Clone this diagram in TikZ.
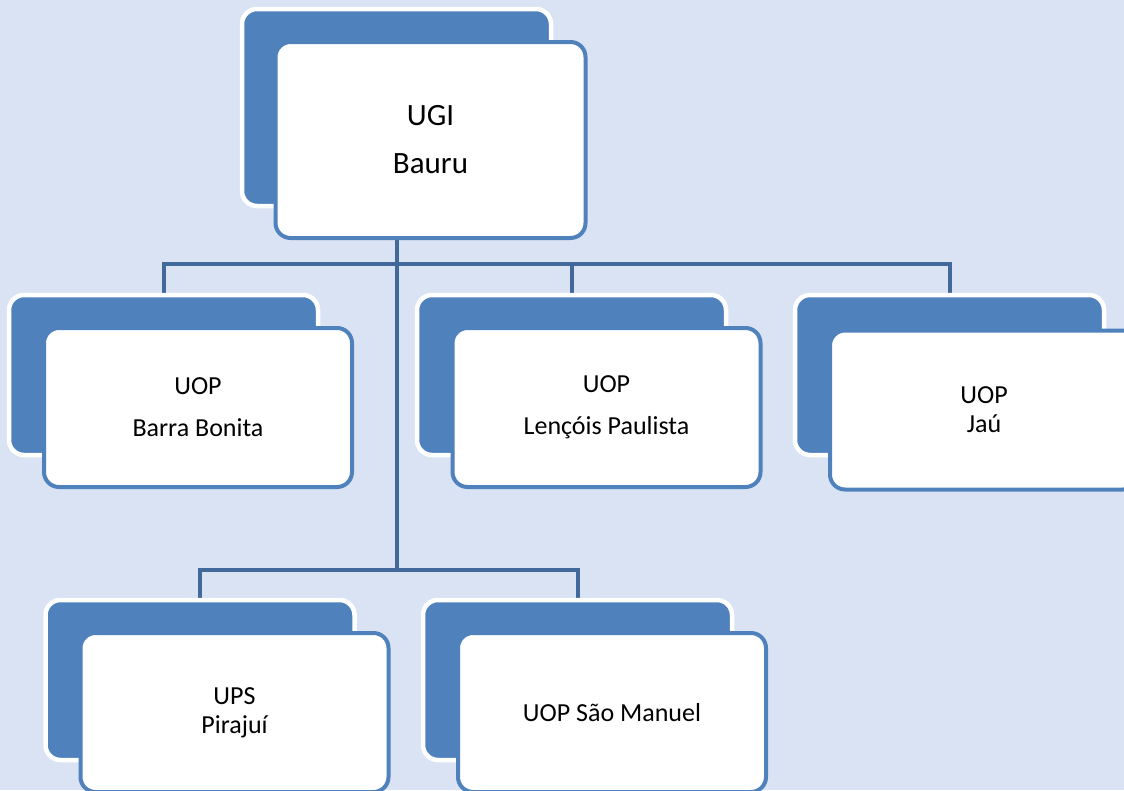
\documentclass[tikz,border=0pt]{standalone}
\usepackage{fontspec}
\setmainfont{Carlito}
\usetikzlibrary{positioning, calc, backgrounds}

\definecolor{cardblue}{HTML}{4F81BD}
\definecolor{linkblue}{HTML}{41699A}
\definecolor{pagebg}{HTML}{DAE3F3}

\begin{document}
\begin{tikzpicture}[
    x=1pt, y=1pt,
    backcard/.style={rectangle, rounded corners=15pt, draw=white, fill=cardblue, line width=4.5pt, minimum width=309pt, minimum height=160pt},
    frontcard/.style={rectangle, rounded corners=15pt, draw=cardblue, fill=white, line width=4pt, minimum width=308pt, minimum height=159pt, align=center, inner sep=0pt, font=\fontsize{26}{29}\selectfont},
    topback/.style={backcard, minimum height=197pt},
    topfront/.style={frontcard, minimum width=310pt, minimum height=196pt, font=\fontsize{31}{36}\selectfont},
    link/.style={draw=linkblue, line width=4pt}
]

% page
\useasboundingbox (0,0) rectangle (1124,-790);

% Top unit
\node[topback] (ugiback) at (396.5,-107.5) {};
\node[topfront] (ugi) at ([shift={(34,-32.5)}]ugiback.center) {UGI\\[12pt]Bauru};

% First row
\node[backcard] (bbback) at (163.5,-375) {};
\node[frontcard] (bb) at ([shift={(34.5,-32.5)}]bbback.center) {UOP\\[13pt]Barra Bonita};

\node[backcard] (lpback) at (571.5,-375) {};
\node[frontcard] (lp) at ([shift={(35,-32.5)}]lpback.center) {UOP\\[13pt]Lençóis Paulista};

\node[backcard] (jauback) at (949.5,-375) {};
\node[frontcard] (jau) at ([shift={(34.5,-35)}]jauback.center) {UOP\\Jaú};

% Second row
\node[backcard] (pjback) at (200,-680) {};
\node[frontcard] (pj) at ([shift={(34.5,-32.5)}]pjback.center) {UPS\\Pirajuí};

\node[backcard] (smback) at (577.5,-680) {};
\node[frontcard] (sm) at ([shift={(34.5,-32.5)}]smback.center) {UOP São Manuel};

% Connectors
\coordinate (topbus) at ($(ugiback.south |- lpback.north)+(0,29)$);
\coordinate (lowbus) at ($(ugiback.south |- pjback.north)+(0,28)$);

\begin{scope}[on background layer]
    \fill[pagebg] (0,0) rectangle (1124,-790);
    \draw[link] (ugiback.south) -- (lowbus);
    \draw[link] (topbus) -| (bbback.north);
    \draw[link] (topbus) -| (jauback.north);
    \draw[link] (topbus -| lpback.north) -- (lpback.north);
    \draw[link] (lowbus) -| (pjback.north);
    \draw[link] (lowbus) -| (smback.north);
\end{scope}

\end{tikzpicture}
\end{document}
